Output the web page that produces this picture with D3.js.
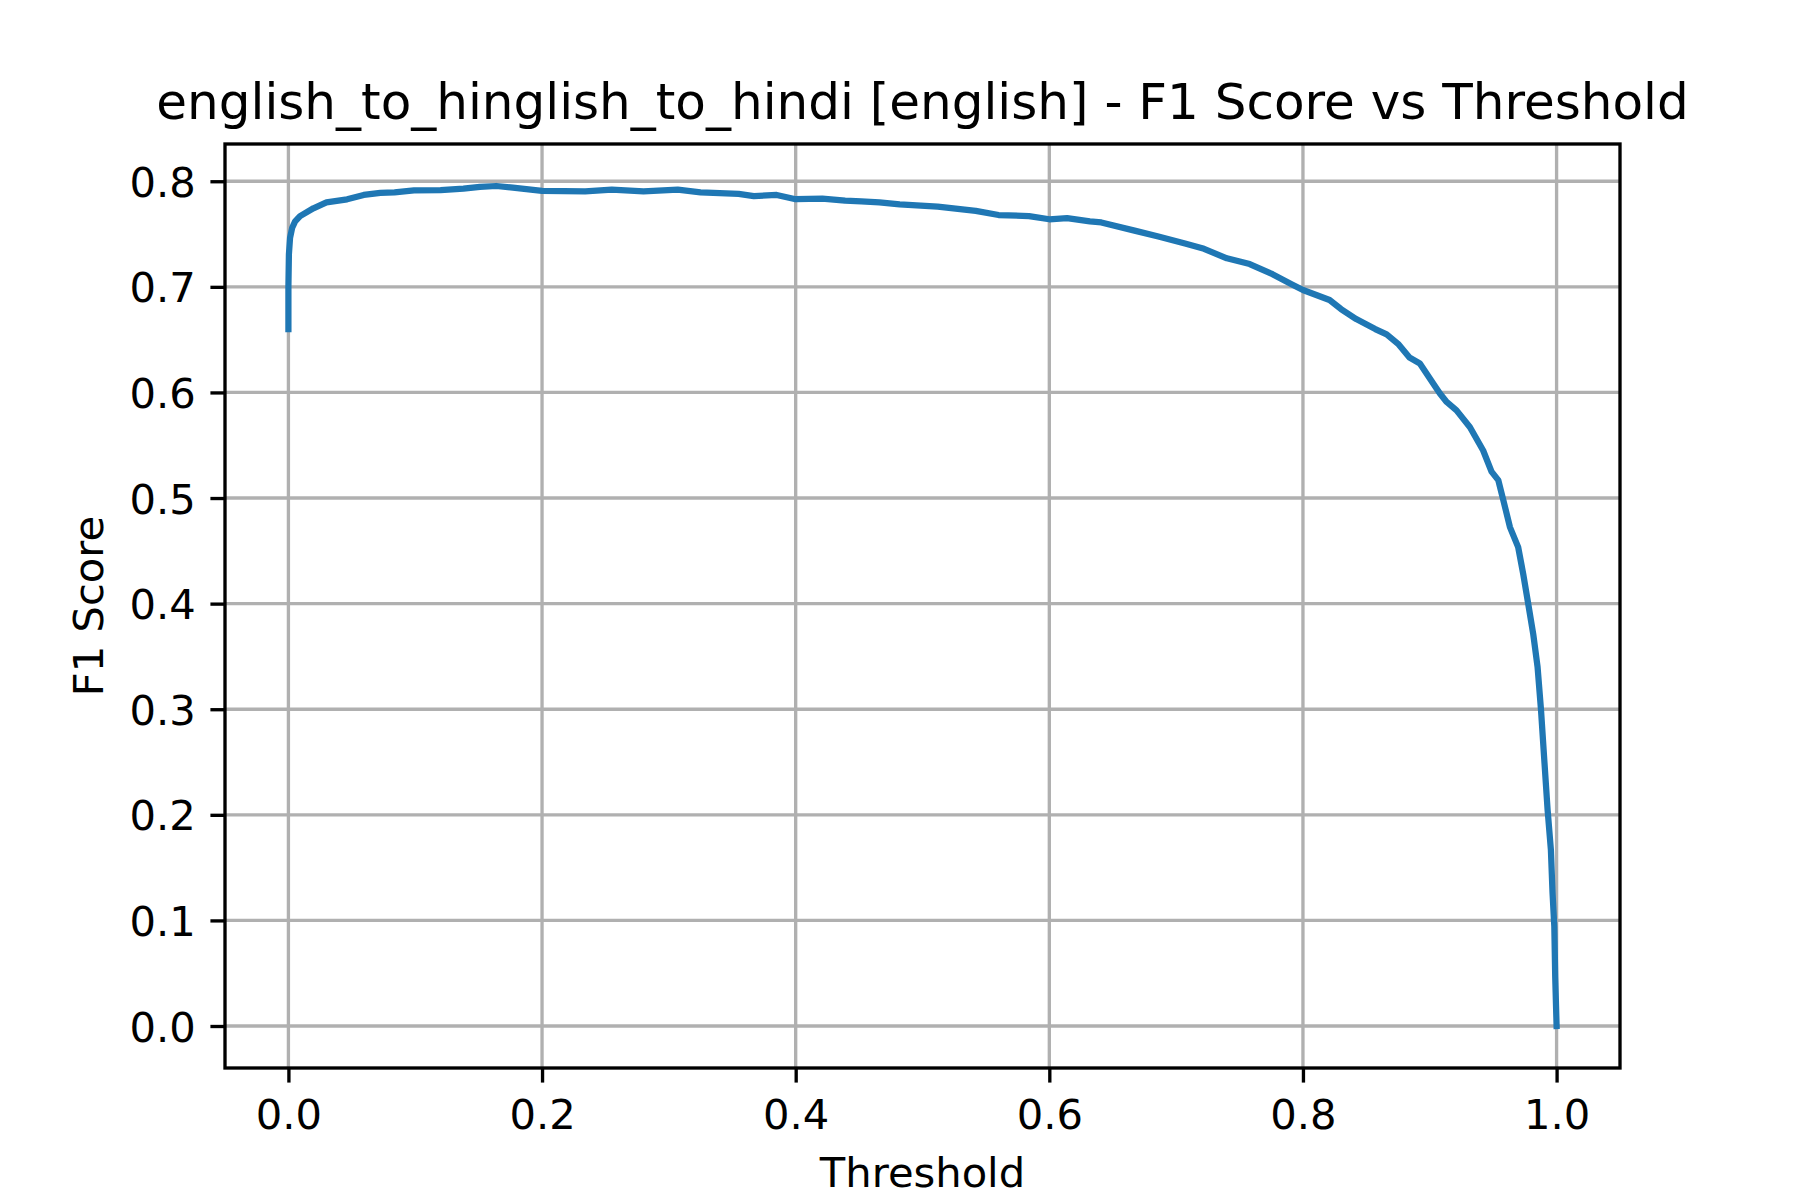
<!DOCTYPE html>
<html>
<head>
<meta charset="utf-8">
<script src="https://cdn.jsdelivr.net/npm/d3@7"></script>
<style>
  html, body { margin: 0; padding: 0; background: #ffffff; }
  svg { display: block; }
</style>
</head>
<body>
<div id="chart"></div>
<script>
// ---- Data ----
const thresholds = [
  0, 0, 0.0004, 0.0013, 0.0030, 0.0053, 0.0092, 0.0197, 0.0300, 0.0463,
  0.0594, 0.0725, 0.0837, 0.099, 0.12, 0.138, 0.151, 0.164, 0.177, 0.2,
  0.234, 0.255, 0.28, 0.307, 0.325, 0.355, 0.367, 0.385, 0.4, 0.421,
  0.439, 0.4517, 0.466, 0.482, 0.512, 0.542, 0.560, 0.584, 0.6, 0.614,
  0.632, 0.641, 0.668, 0.686, 0.707, 0.722, 0.740, 0.758, 0.776, 0.791,
  0.8, 0.821, 0.830, 0.842, 0.857, 0.866, 0.875, 0.884, 0.8922, 0.9027,
  0.908, 0.9133, 0.9211, 0.9317, 0.9421, 0.9487, 0.954, 0.958, 0.9632, 0.9697,
  0.9737, 0.9776, 0.9816, 0.9850, 0.9877, 0.9903, 0.9929, 0.9955, 0.9968,
  0.9982, 0.9989, 1.0
];
const f1Scores = [
  0.660, 0.700, 0.731, 0.7465, 0.756, 0.762, 0.767, 0.7744, 0.780, 0.7829,
  0.787, 0.789, 0.7895, 0.7913, 0.7915, 0.793, 0.7946, 0.7955, 0.7939, 0.7908,
  0.7905, 0.792, 0.7905, 0.792, 0.7895, 0.788, 0.786, 0.787, 0.783, 0.7835,
  0.7816, 0.781, 0.780, 0.778, 0.776, 0.772, 0.768, 0.767, 0.764, 0.765,
  0.762, 0.761, 0.753, 0.7476, 0.741, 0.736, 0.727, 0.7216, 0.712, 0.7025,
  0.697, 0.6875, 0.679, 0.6695, 0.660, 0.655, 0.646, 0.633, 0.6275, 0.6085,
  0.599, 0.591, 0.583, 0.567, 0.545, 0.525, 0.517, 0.498, 0.4725, 0.4535,
  0.428, 0.400, 0.371, 0.340, 0.2994, 0.252, 0.2048, 0.167, 0.126,
  0.0945, 0.047, 0.0
];
const xTickValues = [0.0, 0.2, 0.4, 0.6, 0.8, 1.0];
const yTickValues = [0.0, 0.1, 0.2, 0.3, 0.4, 0.5, 0.6, 0.7, 0.8];
const titleText = "english_to_hinglish_to_hindi [english] - F1 Score vs Threshold";
const xLabelText = "Threshold";
const yLabelText = "F1 Score";

// ---- Layout ----
const W = 1800, H = 1200;
const L = 225, R = 1620, T = 144, B = 1068;
const FONT = "'DejaVu Sans', sans-serif";
const lw = 0.8 * 300 / 72;      // 3.33 px
const tickLen = 3.5 * 300 / 72; // 14.58 px
const tickFs = 10 * 300 / 72;   // 41.67 px
const titleFs = 12 * 300 / 72;  // 50 px

const points = thresholds.map((t, i) => ({ t, v: f1Scores[i] }));

const xMin = d3.min(thresholds), xMax = d3.max(thresholds);
const xPad = (xMax - xMin) * 0.05;
const yMin = d3.min(f1Scores), yMax = d3.max(f1Scores);
const yPad = (yMax - yMin) * 0.05;

const x = d3.scaleLinear().domain([xMin - xPad, xMax + xPad]).range([L, R]);
const y = d3.scaleLinear().domain([yMin - yPad, yMax + yPad]).range([B, T]);

const svg = d3.select("#chart").append("svg")
  .attr("width", W).attr("height", H)
  .attr("viewBox", `0 0 ${W} ${H}`);

svg.append("rect").attr("width", W).attr("height", H).attr("fill", "#ffffff");

// Grid
const grid = svg.append("g").attr("class", "grid");
grid.selectAll("line.gx").data(xTickValues).enter().append("line")
  .attr("x1", d => x(d)).attr("x2", d => x(d))
  .attr("y1", T).attr("y2", B)
  .attr("stroke", "#b0b0b0").attr("stroke-width", lw);
grid.selectAll("line.gy").data(yTickValues).enter().append("line")
  .attr("x1", L).attr("x2", R)
  .attr("y1", d => y(d)).attr("y2", d => y(d))
  .attr("stroke", "#b0b0b0").attr("stroke-width", lw);

// Clip
svg.append("clipPath").attr("id", "clip")
  .append("rect").attr("x", L).attr("y", T).attr("width", R - L).attr("height", B - T);

// Line
const line = d3.line().x(d => x(d.t)).y(d => y(d.v));
svg.append("path")
  .datum(points)
  .attr("clip-path", "url(#clip)")
  .attr("fill", "none")
  .attr("stroke", "#1f77b4")
  .attr("stroke-width", 1.5 * 300 / 72)
  .attr("stroke-linejoin", "round")
  .attr("stroke-linecap", "square")
  .attr("d", line);

// Axes
const xAxis = d3.axisBottom(x).tickValues(xTickValues).tickFormat(d3.format(".1f"))
  .tickSize(tickLen).tickPadding(tickLen).tickSizeOuter(0);
const gx = svg.append("g").attr("transform", `translate(0,${B})`).call(xAxis);
gx.select(".domain").remove();
gx.selectAll(".tick line").attr("stroke", "#000").attr("stroke-width", lw);
gx.selectAll(".tick text").attr("fill", "#000")
  .style("font-family", FONT).style("font-size", tickFs + "px")
  .attr("dy", "0.76em");

const yAxis = d3.axisLeft(y).tickValues(yTickValues).tickFormat(d3.format(".1f"))
  .tickSize(tickLen).tickPadding(tickLen).tickSizeOuter(0);
const gy = svg.append("g").attr("transform", `translate(${L},0)`).call(yAxis);
gy.select(".domain").remove();
gy.selectAll(".tick line").attr("stroke", "#000").attr("stroke-width", lw);
gy.selectAll(".tick text").attr("fill", "#000")
  .style("font-family", FONT).style("font-size", tickFs + "px")
  .attr("dy", "0.36em");

// Spines
svg.append("rect")
  .attr("x", L).attr("y", T).attr("width", R - L).attr("height", B - T)
  .attr("fill", "none").attr("stroke", "#000").attr("stroke-width", lw)
  .attr("stroke-linejoin", "miter");

// Title and labels
svg.append("text")
  .attr("x", (L + R) / 2).attr("y", 119)
  .attr("text-anchor", "middle")
  .style("font-family", FONT).style("font-size", titleFs + "px")
  .attr("fill", "#000")
  .text(titleText);

svg.append("text")
  .attr("x", (L + R) / 2).attr("y", 1187)
  .attr("text-anchor", "middle")
  .style("font-family", FONT).style("font-size", tickFs + "px")
  .attr("fill", "#000")
  .text(xLabelText);

svg.append("text")
  .attr("transform", `translate(103,${(T + B) / 2}) rotate(-90)`)
  .attr("text-anchor", "middle")
  .style("font-family", FONT).style("font-size", tickFs + "px")
  .attr("fill", "#000")
  .text(yLabelText);
</script>
</body>
</html>
